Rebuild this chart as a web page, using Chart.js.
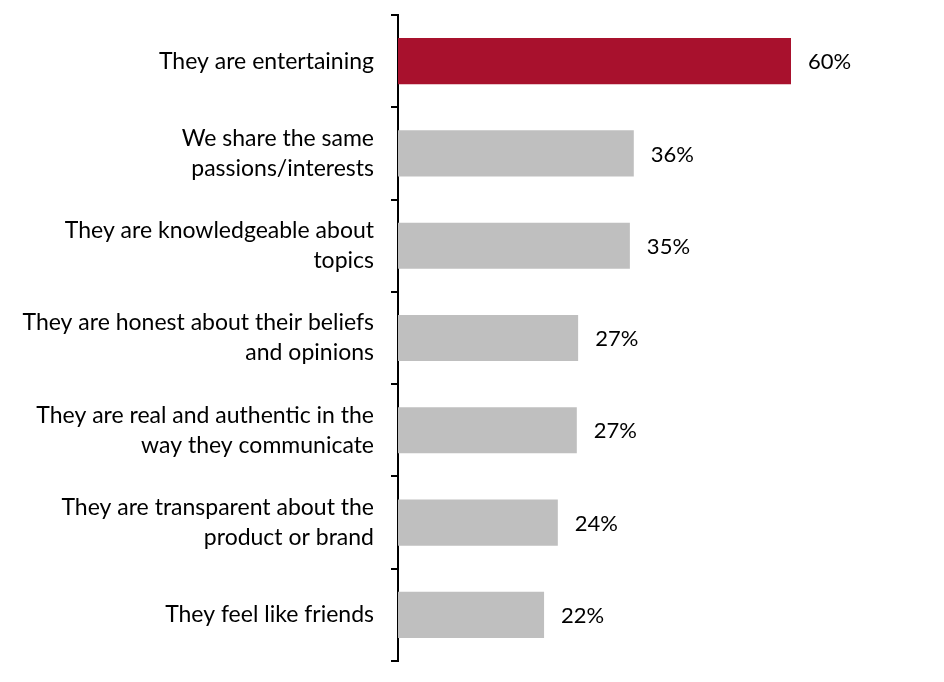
<!DOCTYPE html>
<html>
<head>
<meta charset="utf-8">
<script src="https://cdn.jsdelivr.net/npm/chart.js@4/dist/chart.umd.min.js"></script>
<style>
html,body{margin:0;padding:0;background:#fff;}
#wrap{width:944px;height:682px;position:relative;}
</style>
</head>
<body>
<div id="wrap"><canvas id="c" width="944" height="682"></canvas></div>
<script>
const categories = [
  ["They are entertaining"],
  ["We share the same", "passions/interests"],
  ["They are knowledgeable about", "topics"],
  ["They are honest about their beliefs", "and opinions"],
  ["They are real and authentic in the", "way they communicate"],
  ["They are transparent about the", "product or brand"],
  ["They feel like friends"]
];
const values = [60.0, 36.0, 35.4, 27.5, 27.3, 24.4, 22.3];
const valueLabels = ["60%", "36%", "35%", "27%", "27%", "24%", "22%"];
const barColors = ["#A8112D", "#BFBFBF", "#BFBFBF", "#BFBFBF", "#BFBFBF", "#BFBFBF", "#BFBFBF"];

const FONT = "Lato";
const valueLabelPlugin = {
  id: 'valueLabels',
  afterDatasetsDraw(chart) {
    const ctx = chart.ctx;
    const meta = chart.getDatasetMeta(0);
    ctx.save();
    ctx.font = "22px " + FONT;
    ctx.fillStyle = "#000";
    ctx.textAlign = "left";
    ctx.textBaseline = "middle";
    meta.data.forEach((bar, i) => {
      ctx.fillText(valueLabels[i], bar.x + 17, bar.y + 1);
    });
    ctx.restore();
  }
};

new Chart(document.getElementById('c'), {
  type: 'bar',
  data: {
    labels: categories,
    datasets: [{
      data: values,
      backgroundColor: barColors,
      borderWidth: 0,
      barPercentage: 0.5,
      categoryPercentage: 1.0
    }]
  },
  options: {
    indexAxis: 'y',
    responsive: false,
    animation: false,
    devicePixelRatio: 1,
    layout: { padding: { top: 15, bottom: 21, left: 0, right: 22 } },
    plugins: { legend: { display: false }, tooltip: { enabled: false } },
    scales: {
      x: { display: false, min: 0, max: 80 },
      y: {
        afterFit(scale) { scale.width = 398; scale.paddingTop = 0; scale.paddingBottom = 0; },
        border: { display: true, color: "#000", width: 2 },
        grid: { display: true, drawOnChartArea: false, drawTicks: true, tickLength: 7, color: "#000", lineWidth: 2, offset: true },
        ticks: {
          color: "#000",
          padding: 17,
          font: { family: FONT, size: 23, lineHeight: 1.3 }
        }
      }
    }
  },
  plugins: [valueLabelPlugin]
});
</script>
</body>
</html>
